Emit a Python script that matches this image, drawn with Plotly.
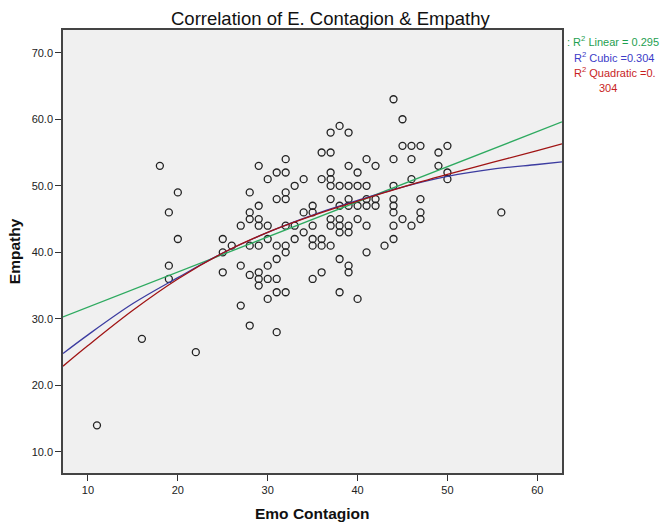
import plotly.graph_objects as go

# Scatter data: Emo Contagion (x) vs Empathy (y)
emo_contagion = [
    11, 16, 18, 19, 20, 20, 19, 19, 22,
    38, 37, 36, 37, 32, 29, 31, 32, 30, 34, 36, 37, 37, 37, 38, 33, 32, 28, 31, 32, 37, 29, 28, 35, 35, 34,
    44, 45, 39, 45, 46, 47, 50, 49, 41, 44, 46, 39, 42, 40, 49, 50, 50, 46, 39, 40, 41, 44, 39, 41, 42, 44, 47,
    38, 39, 40, 41, 42, 44, 47, 44,
    29, 28, 27, 29, 30, 32, 33, 35, 37, 38, 37, 38, 34, 38, 25, 30, 33, 35, 36, 26, 28, 29, 31, 32, 35, 36, 37,
    25, 32, 31, 38, 27, 30, 25, 28, 29, 29, 29, 30, 31, 35, 36, 31, 32, 30, 27, 28, 31, 38,
    39, 39, 40, 41, 44, 45, 46, 47, 44, 43, 41, 39, 39, 40,
    56,
]
empathy = [
    14, 27, 53, 46, 49, 42, 38, 36, 25,
    59, 58, 55, 55, 54, 53, 52, 52, 51, 51, 51, 52, 51, 50, 50, 50, 49, 49, 48, 48, 48, 47, 46, 47, 46, 46,
    63, 60, 58, 56, 56, 56, 56, 55, 54, 54, 54, 53, 53, 52, 53, 52, 51, 51, 50, 50, 50, 50, 48, 48, 48, 48, 48,
    47, 47, 47, 47, 47, 47, 46, 46,
    45, 45, 44, 44, 44, 44, 44, 44, 45, 45, 44, 44, 43, 43, 42, 42, 42, 42, 42, 41, 41, 41, 41, 41, 41, 41, 41,
    40, 40, 39, 39, 38, 38, 37, 36.6, 37, 36, 35, 36, 36, 36, 37, 34, 34, 33, 32, 29, 28, 34,
    44, 43, 45, 44, 44, 45, 44, 45, 42, 41, 40, 38, 37, 33,
    46,
]

# Fit lines, values
linear_x = [7.22, 62.75]
linear_y = [30.3, 59.6]
quad_x = [7.22, 10, 15, 20, 25, 30, 35, 40, 45, 50, 55, 60, 62.75]
quad_y = [22.9, 26.0, 31.3, 36.0, 39.9, 43.0, 45.5, 47.7, 49.8, 51.7, 53.5, 55.3, 56.3]
cubic_x = [7.22, 10, 15, 20, 25, 30, 35, 40, 45, 50, 55, 60, 62.75]
cubic_y = [24.8, 27.6, 32.3, 36.2, 39.9, 43.0, 45.6, 47.8, 49.8, 51.4, 52.5, 53.2, 53.6]

x_ticks = [10, 20, 30, 40, 50, 60]
y_ticks = [10, 20, 30, 40, 50, 60, 70]

FONT = "Arial, Liberation Sans, sans-serif"

fig = go.Figure()
fig.add_trace(go.Scatter(
    x=emo_contagion, y=empathy, mode="markers",
    marker=dict(symbol="circle-open", size=7, color="#222222", line=dict(width=1.3, color="#222222")),
    showlegend=False, hoverinfo="x+y",
))
fig.add_trace(go.Scatter(x=linear_x, y=linear_y, mode="lines",
                         line=dict(color="rgb(46,170,96)", width=1.3), showlegend=False))
fig.add_trace(go.Scatter(x=cubic_x, y=cubic_y, mode="lines", line_shape="spline",
                         line=dict(color="rgb(60,60,160)", width=1.3), showlegend=False))
fig.add_trace(go.Scatter(x=quad_x, y=quad_y, mode="lines", line_shape="spline",
                         line=dict(color="rgb(160,20,20)", width=1.3), showlegend=False))

axis_common = dict(
    showgrid=False, zeroline=False, showline=True, mirror=True,
    linecolor="#444444", linewidth=1.5,
    ticks="outside", ticklen=6, tickwidth=1.2, tickcolor="#333333",
    tickfont=dict(family=FONT, size=11, color="#222222"),
)
fig.update_xaxes(range=[7.22, 62.75], tickvals=x_ticks, **axis_common)
fig.update_yaxes(range=[6.84, 73.41], tickvals=y_ticks, tickformat=".1f", **axis_common)

annotations = [
    dict(text="Correlation of E. Contagion &amp; Empathy", xref="paper", yref="paper",
         x=(331 - 63.3) / 498.7, y=(472.7 - 18.5) / 442.7, xanchor="center", yanchor="middle",
         showarrow=False, font=dict(family=FONT, size=18.5, color="#111111")),
    dict(text="<b>Emo Contagion</b>", xref="paper", yref="paper", x=0.5, y=(472.7 - 513) / 442.7,
         xanchor="center", yanchor="middle", showarrow=False,
         font=dict(family=FONT, size=15.5, color="#111111")),
    dict(text="<b>Empathy</b>", xref="paper", yref="paper", x=(15 - 63.3) / 498.7, y=0.5,
         xanchor="center", yanchor="middle", textangle=-90, showarrow=False,
         font=dict(family=FONT, size=15.5, color="#111111")),
    dict(text=": R<sup>2</sup> Linear = 0.295", xref="paper", yref="paper",
         x=(565 - 63.3) / 498.7, y=(472.7 - 40.7) / 442.7, xanchor="left", yanchor="middle",
         showarrow=False, font=dict(family=FONT, size=11, color="rgb(30,160,80)")),
    dict(text="R<sup>2</sup> Cubic =0.304", xref="paper", yref="paper",
         x=(571.5 - 63.3) / 498.7, y=(472.7 - 57.3) / 442.7, xanchor="left", yanchor="middle",
         showarrow=False, font=dict(family=FONT, size=11, color="rgb(60,60,200)")),
    dict(text="R<sup>2</sup> Quadratic =0.", xref="paper", yref="paper",
         x=(571.5 - 63.3) / 498.7, y=(472.7 - 71.7) / 442.7, xanchor="left", yanchor="middle",
         showarrow=False, font=dict(family=FONT, size=11, color="rgb(200,30,30)")),
    dict(text="304", xref="paper", yref="paper",
         x=(607.5 - 63.3) / 498.7, y=(472.7 - 88.3) / 442.7, xanchor="center", yanchor="middle",
         showarrow=False, font=dict(family=FONT, size=11, color="rgb(200,30,30)")),
]

fig.update_layout(
    width=663, height=524,
    margin=dict(l=63, r=101, t=30, b=51.3),
    paper_bgcolor="white", plot_bgcolor="#F0F0F0",
    annotations=annotations,
    showlegend=False,
)

fig.write_html(
    "out.html",
    config={"displayModeBar": False},
    post_script="document.body.style.margin='0';document.body.style.padding='0';"
                "document.documentElement.style.overflow='hidden';",
)
